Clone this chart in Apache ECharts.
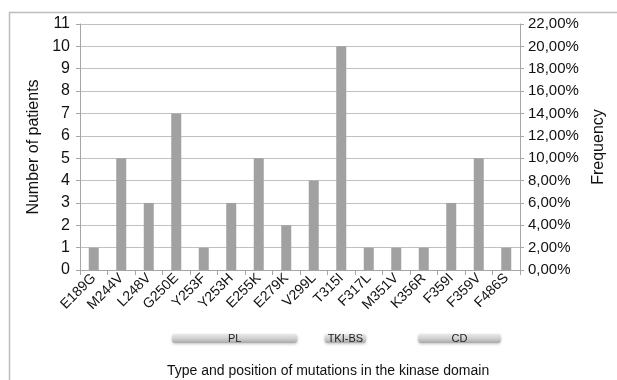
<!DOCTYPE html>
<html>
<head>
<meta charset="utf-8">
<script src="https://cdn.jsdelivr.net/npm/echarts@6/dist/echarts.min.js"></script>
<style>
  html, body { margin: 0; padding: 0; background: #fff; }
  #main { width: 617px; height: 380px; }
</style>
</head>
<body>
<div id="main"></div>
<script>
// mutations along the kinase domain
var mutations = ['E189G', 'M244V', 'L248V', 'G250E', 'Y253F', 'Y253H', 'E255K', 'E279K',
  'V299L', 'T315I', 'F317L', 'M351V', 'K356R', 'F359I', 'F359V', 'F486S'];
var patients = [1, 5, 3, 7, 1, 3, 5, 2, 4, 10, 1, 1, 1, 3, 5, 1];

// domains, in category index units
var domainNames = ['PL', 'TKI-BS', 'CD'];
var domainStart = [2.85, 8.4, 11.8];
var domainEnd = [7.4, 9.9, 14.8];

var chart = echarts.init(document.getElementById('main'));
var font = 'Liberation Sans, Arial, sans-serif';
var axisGray = '#a6a6a6';

chart.setOption({
  animation: false,
  textStyle: { fontFamily: font },
  title: {
    text: 'Type and position of mutations in the kinase domain',
    left: 162,
    top: 359,
    textStyle: { fontSize: 14, fontWeight: 'normal', color: '#111', fontFamily: font }
  },
  grid: { left: 80, right: 97, top: 24, height: 246, containLabel: false, outerBoundsMode: 'none' },
  xAxis: {
    type: 'category',
    data: mutations,
    axisLine: { lineStyle: { color: axisGray } },
    axisTick: { show: true, length: 5, lineStyle: { color: axisGray } },
    axisLabel: { rotate: 45, fontSize: 14, color: '#111', margin: 6, interval: 0 }
  },
  yAxis: [
    {
      type: 'value',
      min: 0, max: 11, interval: 1,
      name: 'Number of patients',
      nameLocation: 'middle',
      nameGap: 33,
      nameTextStyle: { fontSize: 16, color: '#111' },
      axisLine: { show: true, lineStyle: { color: axisGray } },
      axisTick: { show: true, length: 4, lineStyle: { color: axisGray } },
      axisLabel: { fontSize: 16, color: '#111', margin: 10 },
      splitLine: { lineStyle: { color: '#c0c0c0' } }
    },
    {
      type: 'value',
      min: 0, max: 22, interval: 2,
      name: 'Frequency',
      nameLocation: 'middle',
      nameGap: 71,
      nameRotate: 90,
      nameTextStyle: { fontSize: 16, color: '#111' },
      axisLine: { show: true, lineStyle: { color: axisGray } },
      axisTick: { show: true, length: 4, lineStyle: { color: axisGray } },
      axisLabel: {
        fontSize: 15, color: '#111', margin: 8,
        formatter: function (v) { return v.toFixed(2).replace('.', ',') + '%'; }
      },
      splitLine: { show: false }
    }
  ],
  series: [
    {
      type: 'bar',
      data: patients,
      barWidth: 10,
      itemStyle: { color: '#a1a1a1' }
    }
  ]
});

// outer frame + domain bars placed from the category axis
function drawExtras() {
  var p0 = chart.convertToPixel({ xAxisIndex: 0 }, 0);
  var p1 = chart.convertToPixel({ xAxisIndex: 0 }, 1);
  var band = p1 - p0;
  var elements = [
    {
      type: 'rect',
      shape: { x: 9.5, y: 12.5, width: 700, height: 400 },
      style: { fill: null, stroke: '#bdbdbd', lineWidth: 1.5 },
      silent: true
    }
  ];
  for (var i = 0; i < domainNames.length; i++) {
    var x1 = p0 + domainStart[i] * band;
    var x2 = p0 + domainEnd[i] * band;
    elements.push({
      type: 'rect',
      shape: { x: x1, y: 334, width: x2 - x1, height: 9, r: 3 },
      style: {
        fill: new echarts.graphic.LinearGradient(0, 0, 0, 1, [
          { offset: 0, color: '#e8e8e8' },
          { offset: 0.5, color: '#d0d0d0' },
          { offset: 1, color: '#a8a8a8' }
        ]),
        shadowBlur: 3,
        shadowColor: 'rgba(0,0,0,0.25)',
        shadowOffsetY: 1
      },
      silent: true
    });
    elements.push({
      type: 'text',
      x: (x1 + x2) / 2,
      y: 338.5,
      style: {
        text: domainNames[i],
        fontSize: 11,
        fontFamily: font,
        fill: '#222',
        align: 'center',
        verticalAlign: 'middle'
      },
      silent: true
    });
  }
  chart.setOption({ graphic: elements });
}
drawExtras();
</script>
</body>
</html>
